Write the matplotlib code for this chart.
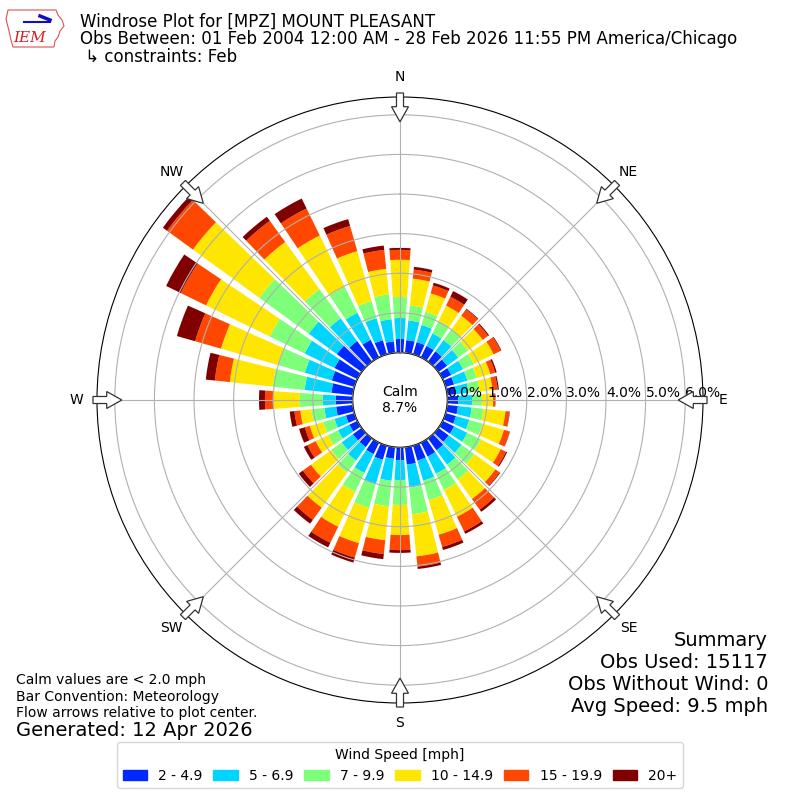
import numpy as np
import matplotlib
matplotlib.use("Agg")
import matplotlib.pyplot as plt
from matplotlib.patches import FancyArrow, Patch, Polygon

# wind direction bins (degrees, direction wind blows from)
directions = [0, 10, 20, 30, 40, 50, 60, 70, 80, 90, 100, 110,
              120, 130, 140, 150, 160, 170, 180, 190, 200, 210, 220, 230,
              240, 250, 260, 270, 280, 290, 300, 310, 320, 330, 340, 350]

speed_labels = ['2 - 4.9', '5 - 6.9', '7 - 9.9', '10 - 14.9', '15 - 19.9', '20+']

# frequency [%] per direction for each speed bin
spd_2_5 = [0.34, 0.32, 0.32, 0.32, 0.32, 0.27, 0.24, 0.22, 0.22, 0.27, 0.27, 0.27,
           0.32, 0.32, 0.37, 0.39, 0.39, 0.44, 0.32, 0.29, 0.37, 0.32, 0.27, 0.27,
           0.22, 0.22, 0.42, 0.42, 0.54, 0.59, 0.64, 0.77, 0.64, 0.49, 0.37, 0.29]
spd_5_7 = [0.53, 0.50, 0.45, 0.35, 0.35, 0.35, 0.33, 0.35, 0.32, 0.35, 0.35, 0.35,
           0.37, 0.40, 0.45, 0.48, 0.53, 0.58, 0.50, 0.56, 0.65, 0.53, 0.42, 0.35,
           0.32, 0.30, 0.30, 0.33, 0.68, 0.71, 0.84, 0.88, 0.71, 0.76, 0.58, 0.56]
spd_7_10 = [0.53, 0.38, 0.35, 0.35, 0.33, 0.30, 0.30, 0.25, 0.28, 0.25, 0.30, 0.35,
            0.38, 0.40, 0.46, 0.46, 0.51, 0.68, 0.63, 0.65, 0.61, 0.53, 0.38, 0.33,
            0.28, 0.30, 0.33, 0.58, 0.81, 0.71, 0.98, 1.54, 0.91, 0.73, 0.45, 0.63]
spd_10_15 = [0.94, 0.68, 0.48, 0.43, 0.43, 0.46, 0.56, 0.35, 0.33, 0.28, 0.56, 0.56,
             0.56, 0.66, 0.61, 0.75, 0.91, 1.07, 0.76, 0.86, 0.93, 0.98, 1.09, 0.63,
             0.35, 0.35, 0.28, 0.68, 1.09, 1.49, 1.79, 2.07, 1.47, 1.44, 1.31, 0.65]
spd_15_20 = [0.25, 0.23, 0.21, 0.25, 0.20, 0.17, 0.20, 0.13, 0.13, 0.05, 0.10, 0.15,
             0.15, 0.13, 0.33, 0.41, 0.32, 0.26, 0.38, 0.35, 0.38, 0.45, 0.38, 0.25,
             0.23, 0.13, 0.15, 0.20, 0.38, 0.68, 0.71, 0.81, 0.66, 0.76, 0.66, 0.48]
spd_20up = [0.05, 0.07, 0.07, 0.16, 0.02, 0.03, 0.02, 0.04, 0.03, 0.01, 0.01, 0.01,
            0.03, 0.02, 0.07, 0.07, 0.08, 0.06, 0.07, 0.13, 0.13, 0.13, 0.12, 0.13,
            0.10, 0.15, 0.12, 0.15, 0.23, 0.48, 0.41, 0.13, 0.13, 0.28, 0.18, 0.11]

calm_pct = 8.7
rticks = [0, 1, 2, 3, 4, 5, 6]
compass = ['N', 'NE', 'E', 'SE', 'S', 'SW', 'W', 'NW']
compass_deg = [0, 45, 90, 135, 180, 225, 270, 315]

bins = [spd_2_5, spd_5_7, spd_7_10, spd_10_15, spd_15_20, spd_20up]
colors = plt.cm.jet(np.linspace(1 / 6., 1, 6))

fig = plt.figure(figsize=(8, 8), dpi=100)
ax = fig.add_axes([0.12125, 0.12125, 0.7575, 0.7575], projection='polar')
ax.set_theta_zero_location('N')
ax.set_theta_direction(-1)

theta = np.deg2rad(directions)
bottom = np.zeros(len(directions))
for vals, c in zip(bins, colors):
    ax.bar(theta, vals, width=np.deg2rad(8), bottom=bottom, color=c,
           edgecolor='none', zorder=2)
    bottom += np.array(vals)

ax.set_rlim(0, 6.45)
ax.set_rorigin(-1.2)
ax.set_rticks(rticks)
ax.set_yticklabels(['%.1f%%' % r for r in rticks], fontsize=10)
ax.set_rlabel_position(90)
ax.set_xticks(np.deg2rad(compass_deg))
ax.set_xticklabels(compass, fontsize=10)
ax.tick_params(axis='x', pad=4)
ax.set_axisbelow(False)
ax.grid(True, color='#b0b0b0', lw=0.8)
ax.spines['polar'].set_color('black')
ax.spines['inner'].set_color('black')
ax.spines['inner'].set_linewidth(1.2)

ax.text(0.5, 0.5, 'Calm\n%.1f%%' % calm_pct, transform=ax.transAxes,
        ha='center', va='center', fontsize=10)

# flow arrows around the edge
for d in compass_deg:
    s, c = np.sin(np.deg2rad(d)), np.cos(np.deg2rad(d))
    arr = FancyArrow(0.5 + 0.5066 * s, 0.5 + 0.5066 * c, -0.0476 * s, -0.0476 * c,
                     width=0.0116, head_width=0.028, head_length=0.025,
                     length_includes_head=True, transform=ax.transAxes,
                     fc='white', ec='#333333', lw=0.9, clip_on=False, zorder=5)
    ax.add_patch(arr)

# titles
fig.text(0.1, 1 - 26.5 / 800, 'Windrose Plot for [MPZ] MOUNT PLEASANT', fontsize=12, va='baseline')
fig.text(0.1, 1 - 44.5 / 800,
         'Obs Between: 01 Feb 2004 12:00 AM - 28 Feb 2026 11:55 PM America/Chicago',
         fontsize=12, va='baseline')
fig.text(0.1, 1 - 61.5 / 800, ' \u21b3 constraints: Feb', fontsize=12, va='baseline')

# rough IEM logo
iowa = [(8, 10), (56, 10), (58, 15), (62, 20), (64, 26), (60, 31), (58, 37),
        (55, 41), (54, 47), (13, 47), (11, 40), (9, 31), (6, 19)]
fig.patches.append(Polygon([(x / 800., 1 - y / 800.) for x, y in iowa], closed=True,
                           fc='none', ec='#e05050', lw=0.8, transform=fig.transFigure))
fig.add_artist(plt.Line2D([24 / 800., 50 / 800.], [1 - 22 / 800., 1 - 22 / 800.],
                          color='#1010c0', lw=1.5))
fig.add_artist(plt.Line2D([40 / 800., 50 / 800.], [1 - 16 / 800., 1 - 20 / 800.],
                          color='#1010c0', lw=2.5))
fig.text(30 / 800., 1 - 38 / 800., 'IEM', color='#d02020', fontsize=11, ha='center',
         va='center', family='serif', style='italic')

# notes
fig.text(0.02, 1 - 680 / 800., 'Calm values are < 2.0 mph', fontsize=10, va='center')
fig.text(0.02, 1 - 697 / 800., 'Bar Convention: Meteorology', fontsize=10, va='center')
fig.text(0.02, 1 - 713 / 800., 'Flow arrows relative to plot center.', fontsize=10, va='center')
fig.text(0.02, 1 - 730 / 800., 'Generated: 12 Apr 2026', fontsize=14, va='center')

summary = ['Summary', 'Obs Used: 15117', 'Obs Without Wind: 0', 'Avg Speed: 9.5 mph']
for i, line in enumerate(summary):
    fig.text(0.96, 1 - (640 + 22 * i) / 800., line, fontsize=14, ha='right', va='center')

handles = [Patch(color=c) for c in colors]
fig.legend(handles, speed_labels, title='Wind Speed [mph]', ncol=6, loc='lower center',
           bbox_to_anchor=(0.5, 0.006), fontsize=10, title_fontsize=10,
           handlelength=1.75, columnspacing=0.8)

fig.savefig('out.png', dpi=100)
